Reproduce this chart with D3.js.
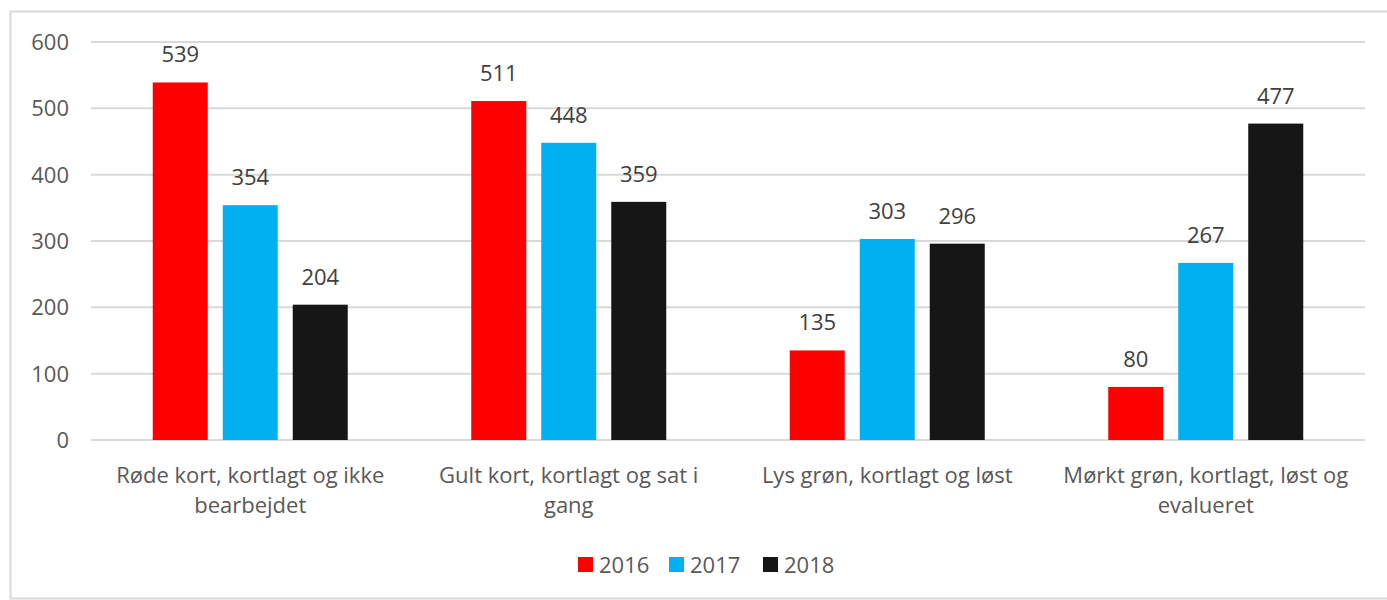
<!DOCTYPE html>
<html>
<head>
<meta charset="utf-8">
<script src="https://cdn.jsdelivr.net/npm/d3@7"></script>
<style>
  body { margin: 0; background: #fff; }
  svg text { font-family: "Open Sans", "Noto Sans", sans-serif; }
</style>
</head>
<body>
<div id="chart"></div>
<script>
// data
const categories = [
  'Røde kort, kortlagt og ikke bearbejdet',
  'Gult kort, kortlagt og sat i gang',
  'Lys grøn, kortlagt og løst',
  'Mørkt grøn, kortlagt, løst og evalueret'
];
const years = ['2016', '2017', '2018'];
const values2016 = [539, 511, 135, 80];
const values2017 = [354, 448, 303, 267];
const values2018 = [204, 359, 296, 477];
const yTicks = [0, 100, 200, 300, 400, 500, 600];

const seriesValues = [values2016, values2017, values2018];
const colors = ['#ff0000', '#00b0f0', '#161616'];

const width = 1387, height = 600;
const margin = { left: 91, right: 22, top: 42, bottom: 160 };
const fontSize = '22px';

const svg = d3.select('#chart').append('svg')
  .attr('width', width)
  .attr('height', height);

// outer frame
svg.append('rect')
  .attr('x', 10.5).attr('y', 11.5)
  .attr('width', width + 10).attr('height', 587)
  .attr('fill', 'none')
  .attr('stroke', '#d9d9d9')
  .attr('stroke-width', 2);

const x0 = d3.scaleBand()
  .domain(categories)
  .range([margin.left, width - margin.right]);

const groupW = 195;
const x1 = d3.scaleBand()
  .domain(years)
  .range([0, groupW])
  .paddingInner(15 / 70);

const y = d3.scaleLinear()
  .domain([0, 600])
  .range([height - margin.bottom, margin.top]);

// gridlines
svg.append('g')
  .selectAll('line')
  .data(yTicks)
  .join('line')
    .attr('x1', margin.left)
    .attr('x2', width - margin.right)
    .attr('y1', d => y(d))
    .attr('y2', d => y(d))
    .attr('stroke', '#d9d9d9')
    .attr('stroke-width', 2);

// y tick labels
svg.append('g')
  .selectAll('text')
  .data(yTicks)
  .join('text')
    .attr('x', 69)
    .attr('y', d => y(d))
    .attr('dy', '0.36em')
    .attr('text-anchor', 'end')
    .attr('fill', '#595959')
    .style('font-size', fontSize)
    .text(d => d);

// bars
const groups = svg.append('g')
  .selectAll('g')
  .data(categories)
  .join('g')
    .attr('transform', d => `translate(${x0(d) + (x0.bandwidth() - groupW) / 2},0)`);

const rows = (d, i) => years.map((yr, s) => ({ year: yr, value: seriesValues[s][i], color: colors[s] }));

groups.selectAll('rect')
  .data(rows)
  .join('rect')
    .attr('x', d => x1(d.year))
    .attr('y', d => y(d.value))
    .attr('width', x1.bandwidth())
    .attr('height', d => y(0) - y(d.value))
    .attr('fill', d => d.color);

groups.selectAll('text')
  .data(rows)
  .join('text')
    .attr('x', d => x1(d.year) + x1.bandwidth() / 2)
    .attr('y', d => y(d.value) - 20)
    .attr('text-anchor', 'middle')
    .attr('fill', '#404040')
    .style('font-size', fontSize)
    .text(d => d.value);

// category labels, wrapped
function wrap(textSel, maxW) {
  textSel.each(function (label) {
    const t = d3.select(this);
    const words = label.split(' ');
    const lines = [];
    let line = [];
    const probe = t.append('tspan');
    words.forEach(w => {
      const test = line.concat(w).join(' ');
      probe.text(test);
      if (probe.node().getComputedTextLength() > maxW && line.length) {
        lines.push(line.join(' '));
        line = [w];
      } else {
        line.push(w);
      }
    });
    lines.push(line.join(' '));
    probe.remove();
    lines.forEach((l, i) => {
      t.append('tspan')
        .attr('x', t.attr('x'))
        .attr('y', +t.attr('y') + i * 30)
        .text(l);
    });
  });
}

svg.append('g')
  .selectAll('text')
  .data(categories)
  .join('text')
    .attr('x', d => x0(d) + x0.bandwidth() / 2)
    .attr('y', 483)
    .attr('text-anchor', 'middle')
    .attr('fill', '#595959')
    .style('font-size', fontSize)
    .call(wrap, 300);

// legend
const legendX = [578, 669, 763];
const legend = svg.append('g')
  .selectAll('g')
  .data(years)
  .join('g')
    .attr('transform', (d, i) => `translate(${legendX[i]},557)`);

legend.append('rect')
  .attr('width', 15).attr('height', 15)
  .attr('fill', (d, i) => colors[i]);

legend.append('text')
  .attr('x', 21)
  .attr('y', 8)
  .attr('dy', '0.36em')
  .attr('fill', '#595959')
  .style('font-size', fontSize)
  .text(d => d);
</script>
</body>
</html>
